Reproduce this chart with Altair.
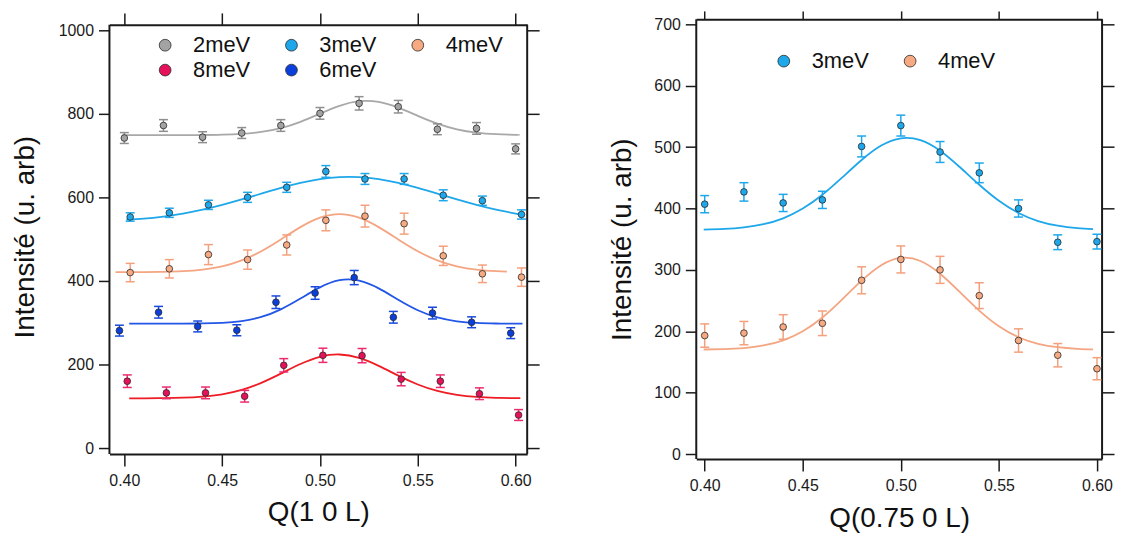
import altair as alt
import pandas as pd

FONT = "Liberation Sans, Arial, sans-serif"

# ---------------- left panel : Q(1 0 L) ----------------
# legend order (column-major in a 3-column legend): 2meV 3meV 4meV / 8meV 6meV
left_series = ["2meV", "8meV", "3meV", "6meV", "4meV"]
left_fill = ["#a3a3a3", "#e5115a", "#1ea7ea", "#0b3fdc", "#f7a982"]
left_err = {"2meV": "#8f8f8f", "3meV": "#1ea7ea", "4meV": "#f4a07c", "8meV": "#ec2a6e", "6meV": "#1849dc"}
left_line = {"2meV": "#a8a8a8", "3meV": "#1ea7ea", "4meV": "#f4a582", "8meV": "#ee1c24", "6meV": "#2256e6"}

q_2meV = [0.400, 0.420, 0.440, 0.460, 0.480, 0.500, 0.520, 0.540, 0.560, 0.580, 0.600]
I_2meV = [742, 772, 744, 754, 772, 801, 825, 817, 763, 765, 716]
E_2meV = [13, 14, 13, 13, 14, 14, 16, 15, 13, 14, 12]

q_3meV = [0.403, 0.423, 0.443, 0.463, 0.483, 0.503, 0.523, 0.543, 0.563, 0.583, 0.603]
I_3meV = [553, 563, 582, 600, 624, 662, 644, 644, 605, 592, 559]
E_3meV = [10, 11, 11, 12, 12, 14, 13, 13, 13, 11, 11]

q_4meV = [0.403, 0.423, 0.443, 0.463, 0.483, 0.503, 0.523, 0.543, 0.563, 0.583, 0.603]
I_4meV = [420, 429, 463, 451, 486, 545, 555, 537, 460, 417, 409]
E_4meV = [22, 22, 24, 23, 24, 25, 26, 25, 23, 21, 22]

q_6meV = [0.3975, 0.4175, 0.4375, 0.4575, 0.4775, 0.4975, 0.5175, 0.5375, 0.5575, 0.5775, 0.5975]
I_6meV = [281, 325, 291, 282, 349, 371, 408, 313, 323, 301, 275]
E_6meV = [13, 14, 13, 13, 15, 15, 17, 14, 14, 13, 13]

q_8meV = [0.4015, 0.4215, 0.4415, 0.4615, 0.4815, 0.5015, 0.5215, 0.5415, 0.5615, 0.5815, 0.6015]
I_8meV = [160, 132, 132, 124, 198, 222, 221, 165, 160, 130, 79]
E_8meV = [15, 14, 14, 14, 16, 17, 17, 16, 15, 14, 13]

# fitted curves
fq_2meV = [0.399, 0.41, 0.42, 0.43, 0.44, 0.45, 0.46, 0.47, 0.48, 0.49, 0.50,
           0.51, 0.52, 0.53, 0.54, 0.55, 0.56, 0.57, 0.58, 0.59, 0.60, 0.6015]
fI_2meV = [749, 749, 749, 749, 749.2, 749.9, 751.8, 756.5, 765.7, 780.8, 800.3,
           819.1, 830.1, 828.3, 814.6, 795.1, 776.4, 762.8, 754.8, 751.1, 749.6, 749.5]

fq_3meV = [0.401, 0.41, 0.42, 0.43, 0.44, 0.45, 0.46, 0.47, 0.48, 0.49, 0.50,
           0.51, 0.52, 0.53, 0.54, 0.55, 0.56, 0.57, 0.58, 0.59, 0.60, 0.6045]
fI_3meV = [546.8, 549, 554.1, 561.3, 570.5, 581.9, 594.9, 608.9, 622.6, 634.6, 643.6,
           648.4, 648.4, 643.6, 634.6, 622.6, 608.9, 594.9, 581.9, 570.5, 561.3, 557.4]

fq_4meV = [0.3955, 0.41, 0.42, 0.43, 0.44, 0.45, 0.46, 0.47, 0.48, 0.49, 0.50,
           0.51, 0.52, 0.53, 0.54, 0.55, 0.56, 0.57, 0.58, 0.59, 0.5955]
fI_4meV = [421, 421.2, 421.8, 423.3, 427.1, 435, 449.2, 471.1, 499.3, 528.7, 551.4,
           560, 551.4, 528.7, 499.3, 471.1, 449.2, 435, 427.1, 423.3, 422.3]

fq_6meV = [0.4025, 0.41, 0.42, 0.43, 0.44, 0.45, 0.46, 0.47, 0.48, 0.49, 0.50,
           0.51, 0.52, 0.53, 0.54, 0.55, 0.56, 0.57, 0.58, 0.59, 0.60, 0.6035]
fI_6meV = [297.6, 297.6, 297.6, 297.7, 298.2, 299.7, 304, 313.9, 332, 357.7, 384.5,
           401.6, 400.6, 382.1, 354.9, 329.8, 312.6, 303.4, 299.4, 298.1, 297.7, 297.6]

fq_8meV = [0.4025, 0.41, 0.42, 0.43, 0.44, 0.45, 0.46, 0.47, 0.48, 0.49, 0.50,
           0.51, 0.52, 0.53, 0.54, 0.55, 0.56, 0.57, 0.58, 0.59, 0.60, 0.602]
fI_8meV = [119, 119.1, 119.5, 120.4, 123, 128.6, 139.2, 156, 178, 201, 218.3,
           223.9, 215.6, 196.6, 173.3, 152.1, 136.6, 127.2, 122.3, 120.2, 119.4, 119.3]

left_x_ticks = [0.40, 0.45, 0.50, 0.55, 0.60]
left_y_ticks = [0, 200, 400, 600, 800, 1000]
left_x_range = [0.3924, 0.6059]
left_y_range = [-14.3, 1012.9]     # visible frame

# ---------------- right panel : Q(0.75 0 L) ----------------
right_series = ["3meV", "4meV"]
right_fill = ["#1ea7ea", "#f7a982"]
right_err = {"3meV": "#1ea7ea", "4meV": "#f4a07c"}
right_line = {"3meV": "#1ea7ea", "4meV": "#f4a582"}

rq = [0.40, 0.42, 0.44, 0.46, 0.48, 0.50, 0.52, 0.54, 0.56, 0.58, 0.60]
R_3meV = [407, 427, 409, 414, 501, 535, 492, 458, 400, 345, 346]
RE_3meV = [14, 15, 14, 14, 17, 17, 17, 16, 14, 12, 12]
R_4meV = [193, 197, 207, 213, 283, 317, 300, 258, 185, 161, 139]
RE_4meV = [19, 19, 20, 20, 22, 22, 22, 21, 19, 19, 18]

rfq = [0.3995, 0.41, 0.42, 0.43, 0.44, 0.45, 0.46, 0.47, 0.48, 0.49, 0.50,
       0.51, 0.52, 0.53, 0.54, 0.55, 0.56, 0.57, 0.58, 0.59, 0.598]
rfI_3meV = [365.6, 366.7, 369.2, 374.4, 384, 399.8, 422.3, 450.1, 478.9, 502.4, 514.3,
            511.2, 494.1, 467.6, 438.6, 412.5, 392.7, 379.5, 371.9, 367.9, 366.4]
rfI_4meV = [170.3, 171, 172.7, 176.9, 185.3, 200.1, 222.5, 251.6, 282.5, 307.7, 319.6,
            314.4, 293.7, 264.1, 233.6, 208.1, 190.3, 179.6, 174, 171.5, 170.6]

right_x_ticks = [0.40, 0.45, 0.50, 0.55, 0.60]
right_y_ticks = [0, 100, 200, 300, 400, 500, 600, 700]
right_x_range = [0.3957, 0.6026]
right_y_range = [-8, 708]


def points_frame(entries, err_colors):
    rows = []
    for name, qs, vals, errs in entries:
        for q, v, e in zip(qs, vals, errs):
            rows.append({"q": q, "I": v, "lo": v - e, "hi": v + e, "s": name,
                         "ec": err_colors[name]})
    return pd.DataFrame(rows)


def curves_frame(entries, line_colors):
    rows = []
    for name, qs, vals in entries:
        for q, v in zip(qs, vals):
            rows.append({"q": q, "I": v, "s": name, "lc": line_colors[name]})
    return pd.DataFrame(rows)


def panel(pts, crv, order, fills, xrng, yrng, ydom_top, xticks, yticks,
          width, height, xtitle, ytitle_pad, xtitle_pad, top_tick, top_offset,
          lx, ly, cols):
    xs = alt.Scale(domain=xrng, nice=False, zero=False)
    ys = alt.Scale(domain=[yrng[0], ydom_top], nice=False, zero=False)

    ax_bottom = alt.Axis(orient="bottom", values=xticks, format=".2f", title=xtitle,
                         titlePadding=xtitle_pad, labelPadding=7, tickSize=12)
    ax_left = alt.Axis(orient="left", values=yticks, format="d", domain=False,
                       title="Intensité (u. arb)", titlePadding=ytitle_pad,
                       labelPadding=5, tickSize=11)
    ax_top = alt.Axis(orient="top", values=xticks, labels=False, title=None,
                      tickSize=top_tick, offset=top_offset)
    ax_right = alt.Axis(orient="right", values=yticks, labels=False, title=None,
                        tickSize=12, domain=False)

    frame_df = pd.DataFrame({"q": xrng, "lo": [yrng[0]] * 2, "hi": [yrng[1]] * 2})
    frame_layer = alt.Chart(frame_df).mark_rule(strokeWidth=2, color="#1a1a1a").encode(
        x=alt.X("q:Q", scale=xs, axis=None),
        y=alt.Y("lo:Q", scale=ys, axis=None),
        y2="hi:Q",
    )

    line_layer = alt.Chart(crv).mark_line(strokeWidth=1.8, interpolate="natural").encode(
        x=alt.X("q:Q", scale=xs, axis=ax_top),
        y=alt.Y("I:Q", scale=ys, axis=ax_right),
        stroke=alt.Stroke("lc:N", scale=None),
        detail="s:N",
    )
    err_color = alt.Color("ec:N", scale=None)
    rule_layer = alt.Chart(pts).mark_rule(strokeWidth=1.5).encode(
        x=alt.X("q:Q", scale=xs, axis=None),
        y=alt.Y("lo:Q", scale=ys, axis=None),
        y2="hi:Q",
        color=err_color,
    )
    cap_lo = alt.Chart(pts).mark_tick(orient="horizontal", size=9, thickness=1.5, opacity=1).encode(
        x=alt.X("q:Q", scale=xs, axis=None),
        y=alt.Y("lo:Q", scale=ys, axis=None),
        color=err_color,
    )
    cap_hi = alt.Chart(pts).mark_tick(orient="horizontal", size=9, thickness=1.5, opacity=1).encode(
        x=alt.X("q:Q", scale=xs, axis=None),
        y=alt.Y("hi:Q", scale=ys, axis=None),
        color=err_color,
    )
    point_layer = alt.Chart(pts).mark_circle(size=45, opacity=1, stroke="#2b2b2b",
                                             strokeWidth=0.8).encode(
        x=alt.X("q:Q", scale=xs, axis=ax_bottom),
        y=alt.Y("I:Q", scale=ys, axis=ax_left),
        fill=alt.Fill("s:N", scale=alt.Scale(domain=order, range=fills),
                      legend=alt.Legend(title=None, orient="none", legendX=lx, legendY=ly,
                                        columns=cols, symbolType="circle", symbolSize=140,
                                        symbolStrokeColor="#2b2b2b", symbolStrokeWidth=0.8,
                                        symbolOpacity=1, labelFontSize=22, labelFont=FONT,
                                        labelColor="#111111", labelOffset=17,
                                        columnPadding=30, rowPadding=3, padding=0)),
    )
    return alt.layer(frame_layer, line_layer, rule_layer, cap_lo, cap_hi, point_layer).resolve_axis(
        x="independent", y="independent").properties(width=width, height=height)


left_pts = points_frame([
    ("2meV", q_2meV, I_2meV, E_2meV),
    ("3meV", q_3meV, I_3meV, E_3meV),
    ("4meV", q_4meV, I_4meV, E_4meV),
    ("8meV", q_8meV, I_8meV, E_8meV),
    ("6meV", q_6meV, I_6meV, E_6meV),
], left_err)
left_crv = curves_frame([
    ("2meV", fq_2meV, fI_2meV),
    ("3meV", fq_3meV, fI_3meV),
    ("4meV", fq_4meV, fI_4meV),
    ("8meV", fq_8meV, fI_8meV),
    ("6meV", fq_6meV, fI_6meV),
], left_line)
right_pts = points_frame([
    ("3meV", rq, R_3meV, RE_3meV),
    ("4meV", rq, R_4meV, RE_4meV),
], right_err)
right_crv = curves_frame([
    ("3meV", rfq, rfI_3meV),
    ("4meV", rfq, rfI_4meV),
], right_line)

# left plot area starts 5.5 px above its visible frame so both panels share a row origin
left = panel(left_pts, left_crv, left_series, left_fill,
             left_x_range, left_y_range, 1026, left_x_ticks, left_y_ticks,
             420, 437, "Q(1 0 L)", 19, 10, 12, -5.5, 45, 15, 3)
right = panel(right_pts, right_crv, right_series, right_fill,
              right_x_range, right_y_range, right_y_range[1], right_x_ticks, right_y_ticks,
              408, 442, "Q(0.75 0 L)", 17, 11, 8.5, 0, 77, 31, 2)

chart = alt.hconcat(left, right, spacing=69).resolve_scale(fill="independent").properties(
    padding={"left": 3, "top": 0, "right": 0, "bottom": 0}
).configure_view(stroke=None).configure_axis(
    domainColor="#1a1a1a", domainWidth=2, tickColor="#1a1a1a", tickWidth=1.5,
    labelFont=FONT, labelFontSize=16, labelColor="#1a1a1a", labelFlush=False,
    titleFont=FONT, titleFontSize=28, titleFontWeight="normal", titleColor="#111111",
    grid=False,
)

chart.save("out.html", embed_options={"renderer": "svg", "actions": False})
